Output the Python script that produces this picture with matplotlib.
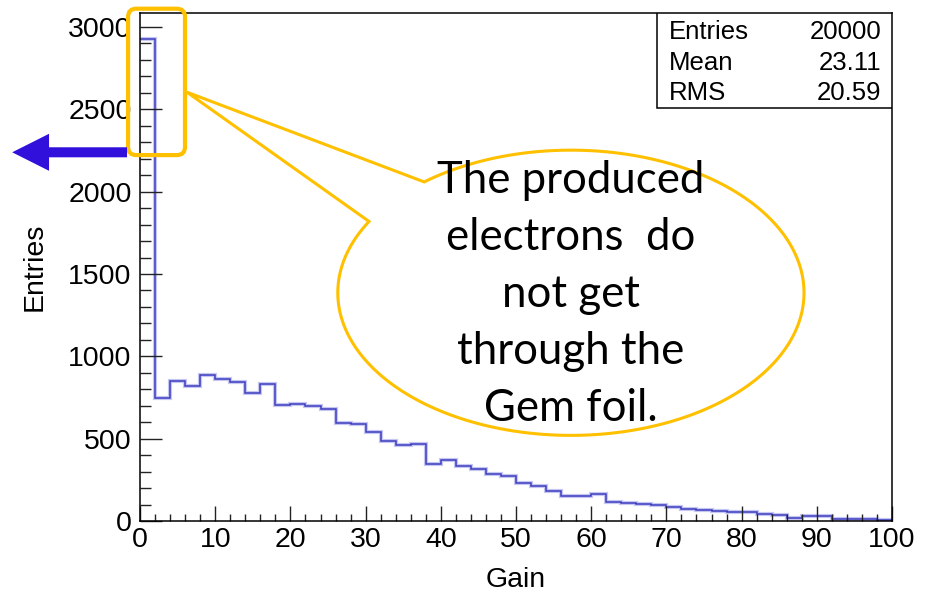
import numpy as np
import matplotlib
matplotlib.use('Agg')
import matplotlib.pyplot as plt
from matplotlib.patches import Rectangle, FancyBboxPatch, Polygon, FancyArrow
from matplotlib.ticker import MultipleLocator

plt.rcParams['font.family'] = 'Liberation Sans'

# gain spectrum, 2-unit bins from 0 to 100
bin_edges = np.arange(0, 102, 2)
counts = [2930, 747, 849, 820, 885, 865, 845, 780, 832, 703,
          711, 701, 680, 594, 590, 541, 488, 462, 466, 349,
          369, 336, 318, 286, 272, 229, 215, 185, 152, 152,
          164, 118, 110, 104, 98, 83, 75, 65, 61, 55,
          53, 41, 35, 20, 28, 28, 14, 14, 14, 8]

stat_names = ['Entries', 'Mean', 'RMS']
stat_values = ['20000', '23.11', '20.59']

note_lines = ['The produced', 'electrons  do', 'not get', 'through the', 'Gem foil.']

orange = '#FFC000'

fig = plt.figure(figsize=(9.28, 5.97), dpi=100)
ax = fig.add_axes([0.1509, 0.1273, 0.8103, 0.8504])

# soft halo under the histogram line, then the line itself
ax.stairs(counts, bin_edges, baseline=None, color='#c6c6f2', lw=3.0)
ax.stairs(counts, bin_edges, baseline=None, color='#3c3cc0', lw=1.1)

ax.set_xlim(0, 100)
ax.set_ylim(0, 3083)
ax.xaxis.set_major_locator(MultipleLocator(10))
ax.xaxis.set_minor_locator(MultipleLocator(2))
ax.yaxis.set_major_locator(MultipleLocator(500))
ax.yaxis.set_minor_locator(MultipleLocator(100))
ax.tick_params(axis='both', which='both', direction='in', color='#222222',
               width=1.0, labelsize=20.5)
ax.tick_params(axis='x', which='major', length=10.8, pad=4)
ax.tick_params(axis='x', which='minor', length=5.3)
ax.tick_params(axis='y', which='major', length=15.6, pad=6)
ax.tick_params(axis='y', which='minor', length=7.7)
for s in ax.spines.values():
    s.set_linewidth(1.1)

ax.set_xlabel('Gain', fontsize=20.5, va='center')
ax.xaxis.set_label_coords(0.5, -0.116)
ax.set_ylabel('Entries', fontsize=20.5, va='center')
ax.yaxis.set_label_coords(-0.1396, 0.5)

# stats box
ax.add_patch(Rectangle((0.6875, 0.8134), 0.3125, 0.1866, transform=ax.transAxes,
                       fc='white', ec='black', lw=1.1, zorder=4))
for i, (name, val) in enumerate(zip(stat_names, stat_values)):
    y = 0.9638 - i * 0.0607
    ax.text(0.7035, y, name, transform=ax.transAxes, fontsize=18.5,
            va='center', zorder=5)
    ax.text(0.9854, y, val, transform=ax.transAxes, fontsize=18.5,
            va='center', ha='right', zorder=5)

# highlight around the first bin
ax.add_patch(FancyBboxPatch((-1.59, 2222), 7.57, 889,
                            boxstyle='round,pad=0,rounding_size=1.1',
                            mutation_aspect=45.7, fc='none', ec=orange,
                            lw=3, clip_on=False, zorder=6))

# speech bubble: ellipse with a tail pointing at the highlight
cx, cy, a, b = 57.3, 1386, 31.0, 866
t = np.radians(np.linspace(150, 129 + 360, 300))
arc = np.column_stack([cx + a * np.cos(t), cy + b * np.sin(t)])
pts = np.vstack([arc, [6.24, 2604]])
ax.add_patch(Polygon(pts, closed=True, fc='white', ec=orange, lw=2.2,
                     joinstyle='miter', clip_on=False, zorder=6))

for i, line in enumerate(note_lines):
    ax.text(57.3, 1991 - 346.3 * i, line, ha='center', va='baseline',
            fontsize=31.5, family='Lato', zorder=7)

# arrow pointing off the left of the plot
ax.add_patch(FancyArrow(-1.73, 2239, -15.27, 0, width=61, head_width=225,
                        head_length=4.9, length_includes_head=True,
                        fc='#3210DC', ec='none', clip_on=False, zorder=6))

fig.savefig('out.png', dpi=100)
